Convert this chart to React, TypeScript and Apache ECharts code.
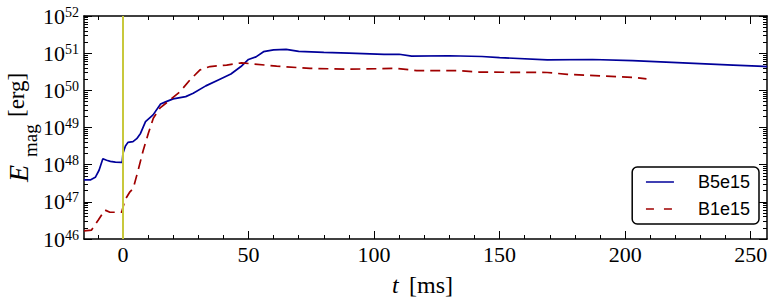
import React, { useEffect, useRef } from "react";
import * as echarts from "echarts";

// time [ms] and log10(E_mag [erg])
const b5T = [-15.5, -13, -11, -9.5, -8, -6.5, -5, -3, -0.3, 0, 1, 2, 4, 5.5, 7, 9, 12, 15, 17, 20, 25, 28, 33, 38, 43, 47, 50, 53, 56, 60, 65, 70, 80, 90, 104, 110, 115, 130, 143, 150, 169, 187, 203, 223, 243, 256.5];
const b5LogE = [47.59, 47.59, 47.66, 47.85, 48.16, 48.12, 48.09, 48.07, 48.06, 48.3, 48.5, 48.6, 48.62, 48.7, 48.84, 49.16, 49.34, 49.63, 49.69, 49.77, 49.83, 49.92, 50.12, 50.28, 50.44, 50.64, 50.83, 50.9, 51.04, 51.09, 51.1, 51.05, 51.02, 51.0, 50.97, 50.97, 50.92, 50.93, 50.91, 50.88, 50.82, 50.83, 50.8, 50.74, 50.68, 50.64];

const b1T = [-15.5, -12.5, -9.8, -7.2, -5.2, -0.5, 0.8, 2.8, 4.1, 6.1, 8.1, 10.1, 12.1, 14.7, 18.7, 22.7, 26.7, 30.7, 34.7, 41.3, 47.3, 51.9, 61.2, 74.5, 90.4, 109, 117, 134, 142, 169, 177, 190, 203, 208.5];
const b1LogE = [46.22, 46.24, 46.51, 46.78, 46.72, 46.72, 47.05, 47.27, 47.36, 47.86, 48.39, 48.84, 49.25, 49.52, 49.74, 49.96, 50.28, 50.55, 50.64, 50.68, 50.74, 50.71, 50.65, 50.59, 50.57, 50.59, 50.53, 50.53, 50.49, 50.48, 50.43, 50.39, 50.35, 50.31];

const seriesNames = ["B5e15", "B1e15"];
const xMajorTicks = [0, 50, 100, 150, 200, 250];
const xMinorTicks = [-10, 10, 20, 30, 40, 60, 70, 80, 90, 110, 120, 130, 140, 160, 170, 180, 190, 210, 220, 230, 240];
const yDecades = [46, 47, 48, 49, 50, 51, 52];
const yMinorMultipliers = [2, 3, 4, 5, 6, 7, 8, 9];
const bounceTime = 0;

const X_MIN = -15.5;
const X_MAX = 256.5;

const yMajorVals = yDecades.map((d, i) => Math.pow(10, d) * (i === 0 ? 1.000001 : i === yDecades.length - 1 ? 0.999999 : 1));
const yMinorVals: number[] = [];
yDecades.slice(0, -1).forEach((d) => yMinorMultipliers.forEach((k) => yMinorVals.push(k * Math.pow(10, d))));

const toPairs = (t: number[], l: number[]) => t.map((v, i) => [v, Math.pow(10, l[i])]);

export default function App() {
  const ref = useRef<HTMLDivElement>(null);
  useEffect(() => {
    if (!ref.current) return;
    const chart = echarts.init(ref.current, null, { renderer: "svg" });
    const serif = "Liberation Serif";
    const lineCol = "#000";
    const baseX = {
      type: "value",
      min: X_MIN,
      max: X_MAX,
      splitLine: { show: false },
      axisLabel: { show: false },
    };
    const baseY = {
      type: "log",
      logBase: 10,
      min: 1e46,
      max: 1e52,
      splitLine: { show: false },
      axisLabel: { show: false },
    };
    const frameLine = { show: true, onZero: false, lineStyle: { color: lineCol, width: 1.5 } };
    const noLine = { show: false, onZero: false };
    const majTick = (vals: number[]) => ({ show: true, inside: true, length: 8, customValues: vals, lineStyle: { color: lineCol, width: 1 } });
    const minTick = (vals: number[]) => ({ show: true, inside: true, length: 4, customValues: vals, lineStyle: { color: lineCol, width: 1 } });
    const txt = (text: string, x: number, y: number, size: number, italic: boolean, rot: number) => ({
      type: "text",
      x,
      y,
      rotation: rot,
      style: {
        text,
        fontFamily: serif,
        fontSize: size,
        fontStyle: italic ? "italic" : "normal",
        fill: "#000",
        align: "left",
        verticalAlign: "middle",
      },
    });

    chart.setOption({
      animation: false,
      grid: { left: 84, right: 5, top: 16, bottom: 63 },
      xAxis: [
        {
          ...baseX,
          position: "bottom",
          axisLine: frameLine,
          axisTick: majTick(xMajorTicks),
          axisLabel: {
            show: true,
            customValues: xMajorTicks,
            margin: 4,
            formatter: (v: number) => `{n|${v}}`,
            rich: { n: { fontFamily: serif, fontSize: 22, lineHeight: 22, color: "#000" } },
          },
        },
        { ...baseX, position: "bottom", axisLine: noLine, axisTick: minTick(xMinorTicks) },
        { ...baseX, position: "top", axisLine: frameLine, axisTick: majTick(xMajorTicks) },
        { ...baseX, position: "top", axisLine: noLine, axisTick: minTick(xMinorTicks) },
      ],
      yAxis: [
        {
          ...baseY,
          position: "left",
          axisLine: frameLine,
          axisTick: majTick(yMajorVals),
          axisLabel: {
            show: true,
            customValues: yMajorVals,
            margin: 5,
            formatter: (v: number) => `{b|10}{s|${Math.round(Math.log10(v))}}`,
            rich: {
              b: { fontFamily: serif, fontSize: 22, lineHeight: 22, color: "#000" },
              s: { fontFamily: serif, fontSize: 14, lineHeight: 14, verticalAlign: "top", color: "#000" },
            },
          },
        },
        { ...baseY, position: "left", axisLine: noLine, axisTick: minTick(yMinorVals) },
        { ...baseY, position: "right", axisLine: frameLine, axisTick: majTick(yMajorVals) },
        { ...baseY, position: "right", axisLine: noLine, axisTick: minTick(yMinorVals) },
      ],
      legend: {
        right: 13,
        top: 167,
        orient: "vertical",
        data: [
          { name: seriesNames[0], lineStyle: { width: 1.5 } },
          { name: seriesNames[1], lineStyle: { width: 1.5, type: [8, 10] } },
        ],
        backgroundColor: "#fff",
        borderColor: "#000",
        borderWidth: 1.5,
        borderRadius: 5,
        padding: [6, 9, 6, 13],
        itemWidth: 28,
        itemHeight: 18,
        itemGap: 9,
        itemStyle: { opacity: 0 },
        textStyle: { fontFamily: "Liberation Sans", fontSize: 18, color: "#000", padding: [0, 0, 0, 19] },
      },
      series: [
        {
          name: seriesNames[0],
          type: "line",
          xAxisIndex: 0,
          yAxisIndex: 0,
          data: toPairs(b5T, b5LogE),
          symbol: "none",
          lineStyle: { color: "#00009a", width: 1.7 },
          itemStyle: { color: "#00009a" },
          z: 3,
          markLine: {
            silent: true,
            symbol: "none",
            label: { show: false },
            lineStyle: { color: "#c8c83c", width: 2, type: "solid" },
            data: [{ xAxis: bounceTime }],
          },
        },
        {
          name: seriesNames[1],
          type: "line",
          xAxisIndex: 0,
          yAxisIndex: 0,
          data: toPairs(b1T, b1LogE),
          symbol: "none",
          lineStyle: { color: "#a00000", width: 1.7, type: [10, 6] },
          itemStyle: { color: "#a00000" },
          z: 3,
        },
      ],
      graphic: [
        txt("E", 18, 182, 28, true, Math.PI / 2),
        txt("mag", 30, 157, 19, false, Math.PI / 2),
        txt("[erg]", 16, 117, 23, false, Math.PI / 2),
        txt("t", 392, 285, 24, true, 0),
        txt("[ms]", 409, 285, 24, false, 0),
      ],
    });
    return () => chart.dispose();
  }, []);
  return <div ref={ref} style={{ position: "absolute", left: 0, top: 0, width: 772, height: 302 }} />;
}
